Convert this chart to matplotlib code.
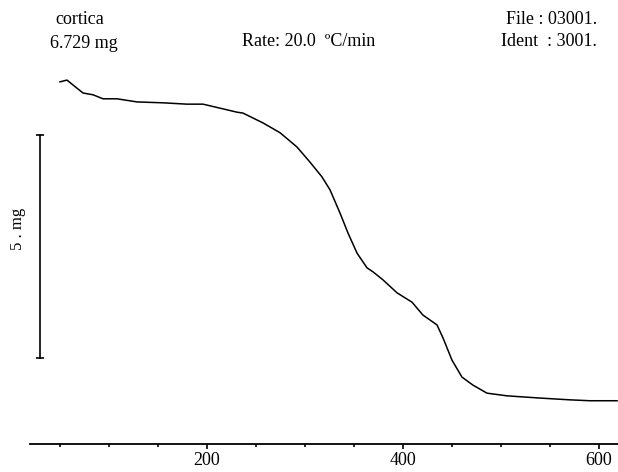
import matplotlib
matplotlib.use("Agg")
import matplotlib.pyplot as plt
from matplotlib.ticker import MultipleLocator

plt.rcParams['font.family'] = ['Liberation Serif', 'DejaVu Serif']

# TG curve (temperature in degC, weight reading in mg)
temp = [50.0, 57.1, 63.3, 73.5, 83.7, 93.9, 108.2, 128.6, 155.1, 179.6,
        195.9, 213.3, 230.6, 236.7, 257.1, 274.5, 291.8, 305.1, 317.3, 325.5,
        335.7, 343.9, 353.1, 363.3, 369.4, 379.6, 393.9, 409.2, 420.4, 434.7,
        440.8, 450.0, 460.2, 471.4, 485.7, 506.1, 539.8, 570.4, 590.8, 618.4]
weight = [8.12, 8.16, 8.05, 7.87, 7.83, 7.74, 7.74, 7.67, 7.65, 7.62,
          7.62, 7.53, 7.44, 7.42, 7.20, 6.98, 6.66, 6.32, 5.99, 5.70,
          5.18, 4.73, 4.28, 3.95, 3.86, 3.68, 3.39, 3.18, 2.89, 2.67,
          2.38, 1.88, 1.50, 1.32, 1.14, 1.08, 1.03, 0.99, 0.97, 0.97]

scale_bar = 5.0       # mg
scale_bottom = 1.93   # mg reading where the bar starts
scale_x = 29.6

fig = plt.figure(figsize=(6.18, 4.72), dpi=100)
ax = fig.add_axes([30 / 618, 28 / 472, 588 / 618, 384 / 472])

ax.plot(temp, weight, color='black', lw=1.1)

# 5 mg scale bar
ax.plot([scale_x, scale_x], [scale_bottom, scale_bottom + scale_bar],
        color='black', lw=1.2, clip_on=False)
ax.plot([scale_x, scale_x], [scale_bottom, scale_bottom + scale_bar],
        ls='none', marker='_', ms=6, mew=1.2, color='black', clip_on=False)
ax.text(7, 4.82, '5 . mg', rotation=90,
        ha='center', va='center', fontsize=12, clip_on=False)

ax.set_xlim(19.4, 619.4)
ax.set_ylim(0, 8.61)
ax.xaxis.set_major_locator(MultipleLocator(200))
ax.xaxis.set_minor_locator(MultipleLocator(50))
ax.tick_params(axis='x', which='major', length=3.5, width=1.2, direction='out',
               labelsize=13, pad=2)
ax.tick_params(axis='x', which='minor', length=2, width=1.2, direction='out')
ax.set_yticks([])
for s in ['top', 'right', 'left']:
    ax.spines[s].set_visible(False)
ax.spines['bottom'].set_linewidth(1.3)

fig.text(80 / 618, 1 - 19 / 472, 'cortica', ha='center', va='center', fontsize=13)
fig.text(84 / 618, 1 - 43 / 472, '6.729 mg', ha='center', va='center', fontsize=13)
fig.text(309 / 618, 1 - 42 / 472, 'Rate: 20.0  \u00baC/min', ha='center',
         va='center', fontsize=13)
fig.text(597 / 618, 1 - 19 / 472, 'File : 03001.', ha='right', va='center',
         fontsize=13)
fig.text(597 / 618, 1 - 42 / 472, 'Ident  : 3001.', ha='right', va='center',
         fontsize=13)

plt.savefig('out.png')
